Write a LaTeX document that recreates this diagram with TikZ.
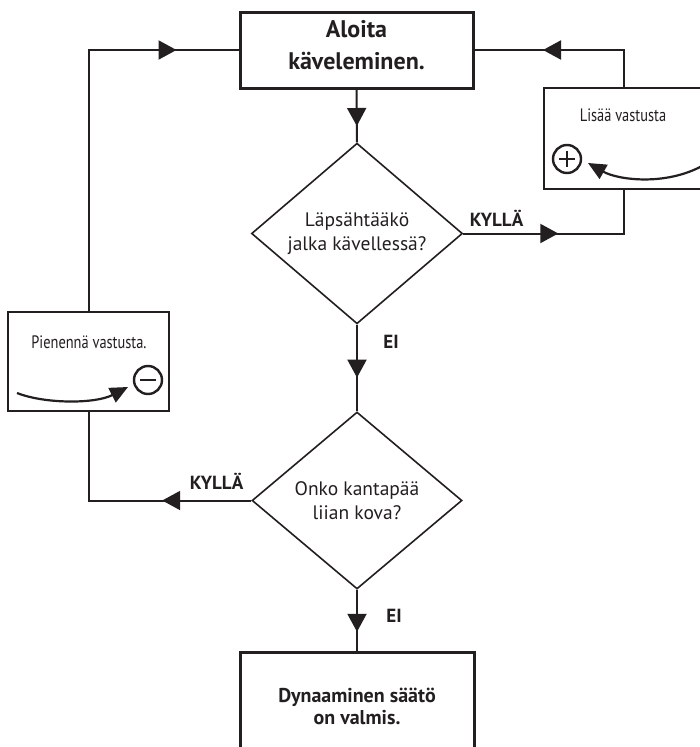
\documentclass[tikz,border=0pt]{standalone}
\usepackage{fontspec}
\setmainfont{PT Sans}
\newfontfamily\condfont[FakeStretch=0.8]{PT Sans}
\usetikzlibrary{shapes.geometric,arrows.meta,decorations.markings}
\definecolor{ink}{RGB}{35,31,32}
\begin{document}
\begin{tikzpicture}[x=1pt,y=-1pt,
  box/.style={draw=ink, line width=3pt, inner sep=0pt, rectangle},
  sidebox/.style={draw=ink, line width=2pt, inner sep=0pt, rectangle},
  dec/.style={diamond, draw=ink, line width=1.6pt, inner sep=0pt, align=center,
              text=ink, font=\fontsize{19.5}{24}\selectfont},
  bigtxt/.style={text=ink, align=center, inner sep=0pt, font=\bfseries\fontsize{24}{32}\selectfont},
  endtxt/.style={text=ink, align=center, inner sep=0pt, font=\bfseries\fontsize{20}{22}\selectfont},
  sidetxt/.style={text=ink, inner sep=0pt, font=\condfont\fontsize{18}{20}\selectfont},
  lab/.style={text=ink, inner sep=0pt, font=\bfseries\fontsize{19}{20}\selectfont},
  conn/.style={draw=ink, line width=2pt},
  tipat/.style={postaction={decorate}, decoration={markings,
     mark=at position #1 with {\arrow[ink]{Triangle[length=18pt,width=19pt]}}}},
  sym/.style={circle, draw=ink, line width=2.4pt, minimum size=28pt, inner sep=0pt},
  curvearrow/.style={draw=ink, line width=2.2pt, -{Triangle[length=18pt,width=16pt]}}
]
\clip (0,0) rectangle (700,747);
\fill[white] (0,0) rectangle (700,747);

% main boxes
\node[box, minimum width=233pt, minimum height=76pt] (top) at (356.5,50) {};
\node[bigtxt] (toptxt) at (356.5,45) {Aloita\\käveleminen.};

\node[dec, minimum width=211pt, minimum height=179pt] (d1) at (357,233.5) {Läpsähtääkö\\jalka kävellessä?};
\node[dec, minimum width=210pt, minimum height=177pt] (d2) at (357,500.5) {Onko kantapää\\liian kova?};

\node[box, minimum width=234pt, minimum height=128pt] (bot) at (357,716) {};
\node[endtxt] (bottxt) at (357,706) {Dynaaminen säätö\\on valmis.};

% side boxes
\node[sidebox, minimum width=160pt, minimum height=101pt] (rbox) at (624,138.5) {};
\node[sidetxt] (rtxt) at (623,115) {Lisää vastusta};
\node[sym] (plus) at (567,159) {};
\draw[ink, line width=2.4pt] ([xshift=-8pt]plus.center) -- ([xshift=8pt]plus.center)
      ([yshift=-8pt]plus.center) -- ([yshift=8pt]plus.center);
\coordinate (rc0) at (702,166);
\coordinate (rc1) at (588,163);
\draw[curvearrow] (rc0) .. controls (665,186) and (618,180) .. (rc1);

\node[sidebox, minimum width=161pt, minimum height=99pt] (lbox) at (88.5,361.5) {};
\node[sidetxt] (ltxt) at (89,342) {Pienennä vastusta.};
\node[sym] (minus) at (148,380) {};
\draw[ink, line width=2.4pt] ([xshift=-8pt]minus.center) -- ([xshift=8pt]minus.center);
\coordinate (lc0) at (17,393);
\coordinate (lc1) at (128,387);
\draw[curvearrow] (lc0) .. controls (45,404) and (95,404) .. (lc1);

% labels
\node[lab] (y1) at (496.5,218) {KYLLÄ};
\node[lab] (n1) at (391,342) {EI};
\node[lab] (n2) at (394,616) {EI};
\node[lab] (y2) at (216.5,481) {KYLLÄ};

% connectors
\draw[conn, tipat=36.5pt] (top.south) -- (d1.north);
\draw[conn, tipat=53pt] (d1.south) -- (d2.north);
\draw[conn, tipat=42pt] (d2.south) -- (bot.north);
\draw[conn, tipat=95pt] (d1.east) -- (d1.east -| rbox.south) -- (rbox.south);
\draw[conn, tipat=118pt] (rbox.north) -- (rbox.north |- top.east) -- (top.east);
\draw[conn, tipat=89pt] (d2.west) -- (d2.west -| lbox.south) -- (lbox.south);
\draw[conn, tipat=349pt] (lbox.north) -- (lbox.north |- top.west) -- (top.west);
\end{tikzpicture}
\end{document}
